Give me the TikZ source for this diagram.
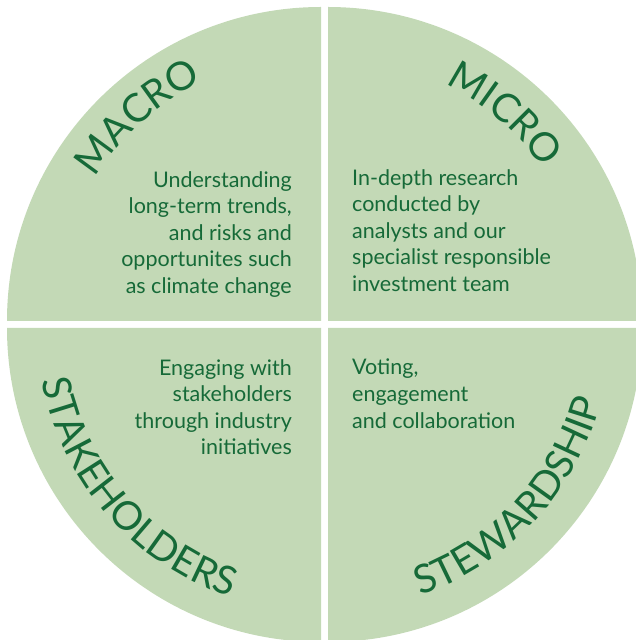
\documentclass[tikz,border=0pt]{standalone}
\usepackage{fontspec}
\setmainfont{Lato}
\usetikzlibrary{decorations.text}

\definecolor{leaf}{RGB}{195,217,182}
\definecolor{ink}{RGB}{22,106,56}
\newcommand{\titlesize}{\fontsize{39.5}{41}\selectfont}

\tikzset{
  quarter/.style={fill=leaf, draw=none},
  bodytext/.style={text=ink, font=\fontsize{21.5}{26.6}\selectfont, inner sep=0pt},
  arctitle/.style={decorate, decoration={text along path, text align=center,
      text color=ink, text={|\titlesize|#1}}}
}

\begin{document}
\begin{tikzpicture}[x=1pt, y=1pt]
    \useasboundingbox (0,0) rectangle (636,640);
    \clip (0,0) rectangle (636,640);

    % Define the four quarters
    \fill[quarter] (321,319) -- ++(-314,0) arc[start angle=180, end angle=90, radius=314] -- cycle;
    \fill[quarter] (328,319) -- ++(0,314) arc[start angle=90, end angle=0, radius=314] -- cycle;
    \fill[quarter] (321,312) -- ++(-314,0) arc[start angle=180, end angle=270, radius=314] -- cycle;
    \fill[quarter] (328,312) -- ++(0,-314) arc[start angle=-90, end angle=0, radius=314] -- cycle;

    % Curved titles
    \path[arctitle=MACRO] (321,319) ++(192:267) arc[start angle=192, end angle=72, radius=267];
    \path[arctitle=MICRO] (328,319) ++(109.5:264) arc[start angle=109.5, end angle=-10.5, radius=264];
    \path[arctitle=STAKEHOLDERS] (321,312) ++(161:284) arc[start angle=161, end angle=281, radius=284];
    \path[arctitle=STEWARDSHIP] (328,312) ++(-103:283) arc[start angle=-103, end angle=17, radius=283];

    % Descriptions
    \node[bodytext, anchor=north east, align=right] (macro) at (292,469)
        {Understanding\\long-term trends,\\and risks and\\opportunites such\\as climate change};
    \node[bodytext, anchor=north west, align=left] (micro) at (352,471)
        {In-depth research\\conducted by\\analysts and our\\specialist responsible\\investment team};
    \node[bodytext, anchor=north east, align=right] (stakeholders) at (292,281)
        {Engaging with\\stakeholders\\through industry\\initiatives};
    \node[bodytext, anchor=north west, align=left] (stewardship) at (352,281)
        {Voting,\\engagement\\and collaboration};
\end{tikzpicture}
\end{document}
